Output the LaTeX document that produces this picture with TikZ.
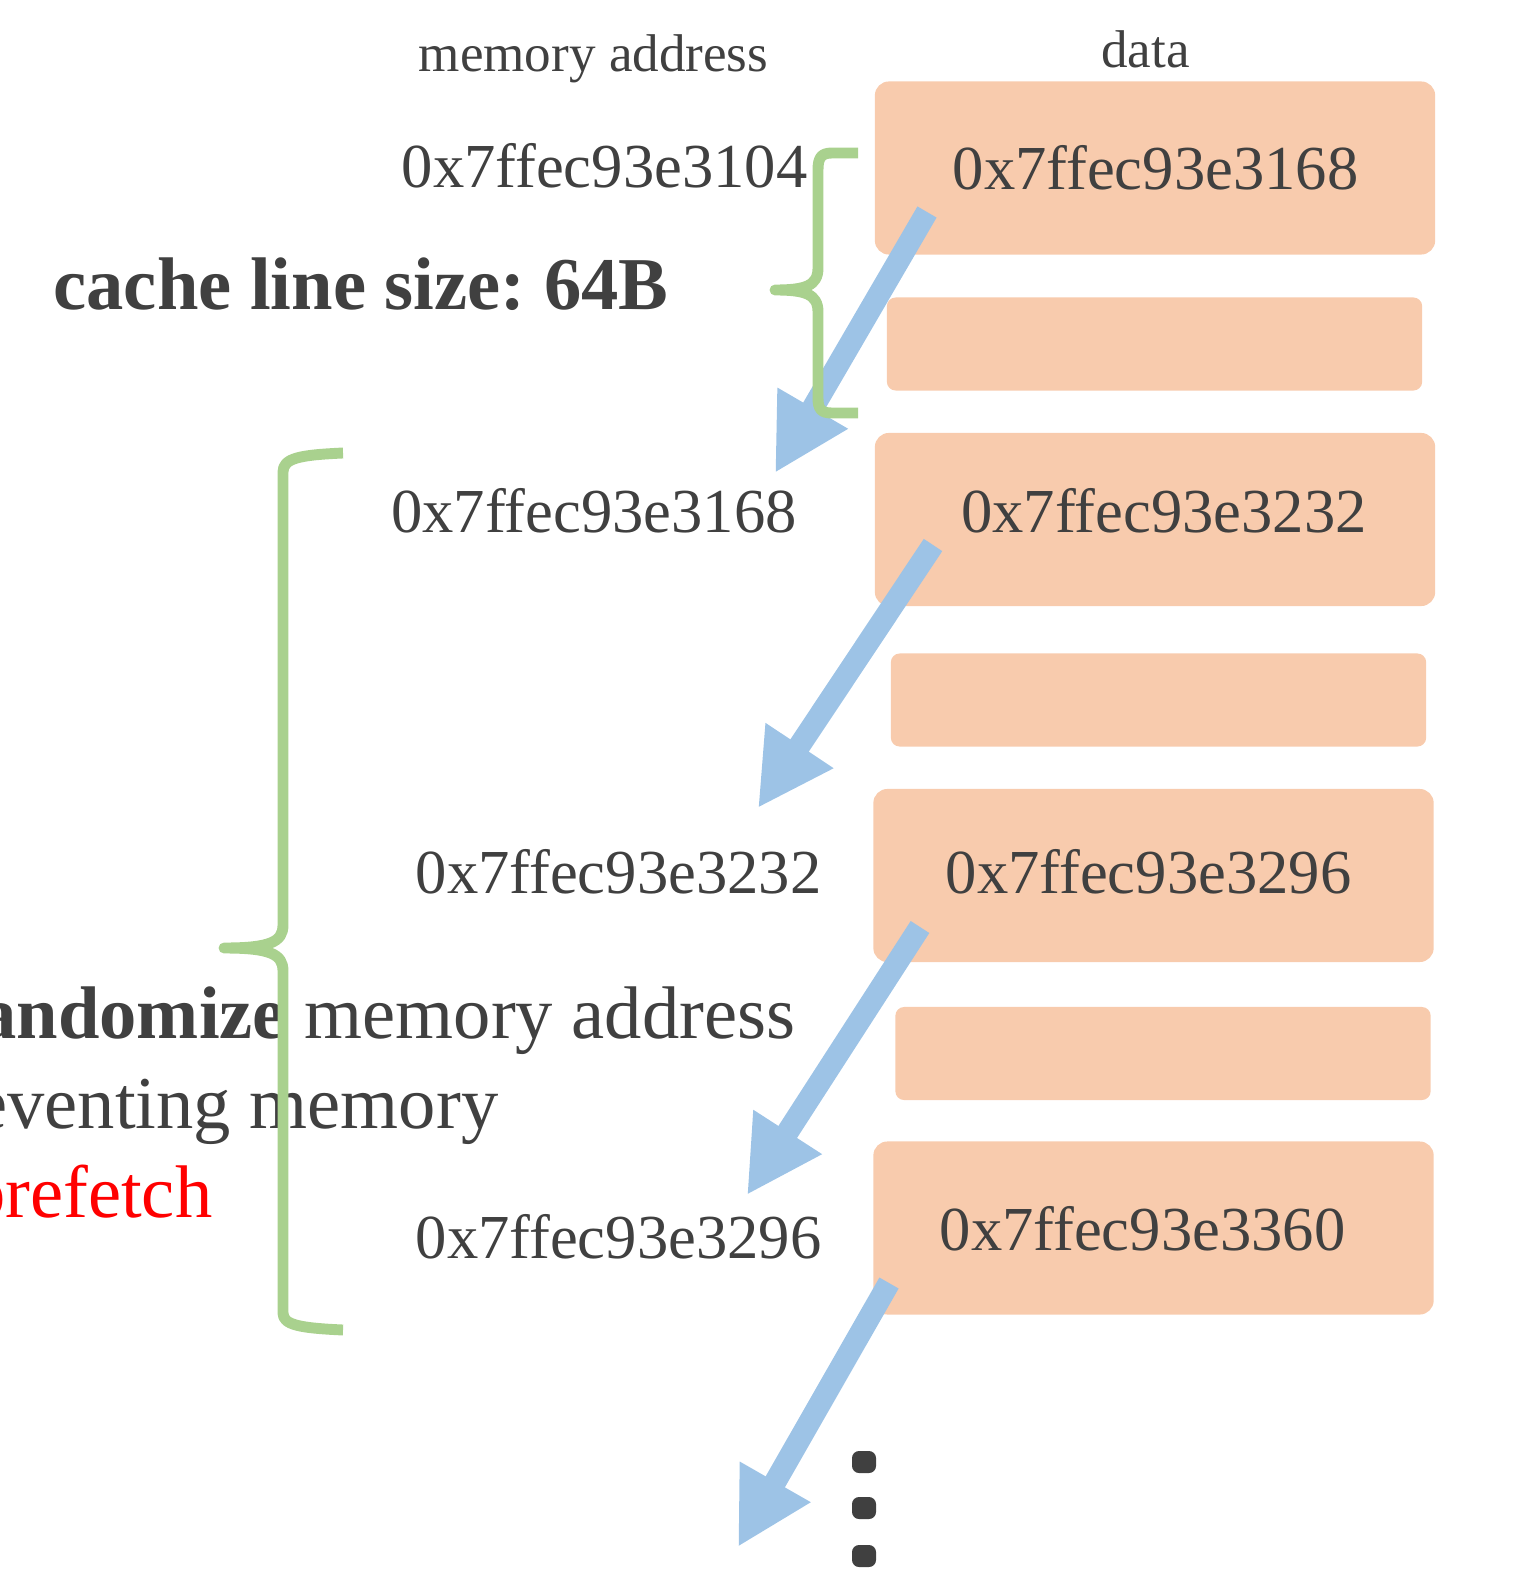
\documentclass[tikz,border=0pt]{standalone}
\usepackage{fontspec}
\setmainfont{Liberation Serif}
\usepackage{xcolor}
\usetikzlibrary{arrows.meta}
\definecolor{txtgray}{HTML}{404040}
\definecolor{cellfill}{HTML}{F8CBAD}
\definecolor{ptrblue}{HTML}{9DC3E6}
\definecolor{bracegreen}{HTML}{A9D18E}
\frenchspacing

\begin{document}
\begin{tikzpicture}[
x=0.01cm, y=-0.01cm,
every node/.style={text=txtgray, inner sep=0pt},
head/.style={font=\fontsize{15.1}{18}\selectfont, anchor=base},
addr/.style={font=\fontsize{17.8}{21}\selectfont, anchor=base},
cell/.style={fill=cellfill, rounded corners=4pt, minimum width=5.6cm, minimum height=1.73cm},
gap/.style={fill=cellfill, rounded corners=2.5pt, minimum width=5.35cm, minimum height=0.93cm},
note/.style={font=\fontsize{21.2}{25}\selectfont, anchor=base east},
ptr/.style={-{Triangle[length=7.5mm, width=7.6mm]}, line width=6.3pt, ptrblue},
brace/.style={bracegreen, line width=3.1pt, line join=round}
]
\useasboundingbox (0,0) rectangle (1521,1573);

% column headers
\node[head] (hdraddr) at (593.5,72) {memory address};
\node[head] (hdrdata) at (1145.5,68) {data};

% addresses
\node[addr] (a0) at (604.5,188) {0x7ffec93e3104};
\node[addr] (a1) at (594,532) {0x7ffec93e3168};
\node[addr] (a2) at (618.5,893) {0x7ffec93e3232};
\node[addr] (a3) at (618.5,1258) {0x7ffec93e3296};

% notes
\node[font=\fontsize{21.2}{25}\selectfont, anchor=base] (lsize) at (361,310) {\textbf{cache line size: 64B}};
\node[note] (r1) at (796,1038) {\textbf{Randomize} memory address};
\node[note] (r2) at (499,1128) {preventing memory};
\node[note, text=red] (r3) at (213,1217) {prefetch};

% data cells
\node[cell] (c1) at (1155,168) {};
\node[gap] (g1) at (1154.5,344) {};
\node[cell] (c2) at (1155,519.5) {};
\node[gap] (g2) at (1158.5,700) {};
\node[cell] (c3) at (1153.5,875.5) {};
\node[gap] (g3) at (1163,1053.5) {};
\node[cell] (c4) at (1153.5,1228) {};

\node[addr] (v1) at (1155.5,190) {0x7ffec93e3168};
\node[addr] (v2) at (1164,532) {0x7ffec93e3232};
\node[addr] (v3) at (1148.5,893) {0x7ffec93e3296};
\node[addr] (v4) at (1142.5,1250) {0x7ffec93e3360};

% pointers
\coordinate (p1s) at (927,212);  \coordinate (p1e) at (775,473);
\coordinate (p2s) at (933,545);  \coordinate (p2e) at (758,808);
\coordinate (p3s) at (920,927);  \coordinate (p3e) at (747,1195);
\coordinate (p4s) at (889,1283); \coordinate (p4e) at (738,1547);
\draw[ptr] (p1s) -- (p1e);
\draw[ptr] (p2s) -- (p2e);
\draw[ptr] (p3s) -- (p3e);
\draw[ptr] (p4s) -- (p4e);

% more dots
\foreach \y in {1462,1508,1556}
  \fill[txtgray, rounded corners=2pt] (852,\y-11) rectangle (876,\y+11);

% braces
\draw[brace] (858,153) -- (832,153) .. controls (821,153) and (818,158) .. (818,170) -- (818,268)
  .. controls (818,286) and (805,290) .. (775,290)
  .. controls (805,290) and (818,294) .. (818,312) -- (818,398)
  .. controls (818,409) and (821,413) .. (832,413) -- (858,413);
\draw[brace] (343,453) .. controls (300,455) and (283,458) .. (283,472) -- (283,925)
  .. controls (283,942) and (270,948) .. (224,948)
  .. controls (270,948) and (283,954) .. (283,971) -- (283,1313)
  .. controls (283,1325) and (300,1328) .. (343,1330);
\end{tikzpicture}
\end{document}
